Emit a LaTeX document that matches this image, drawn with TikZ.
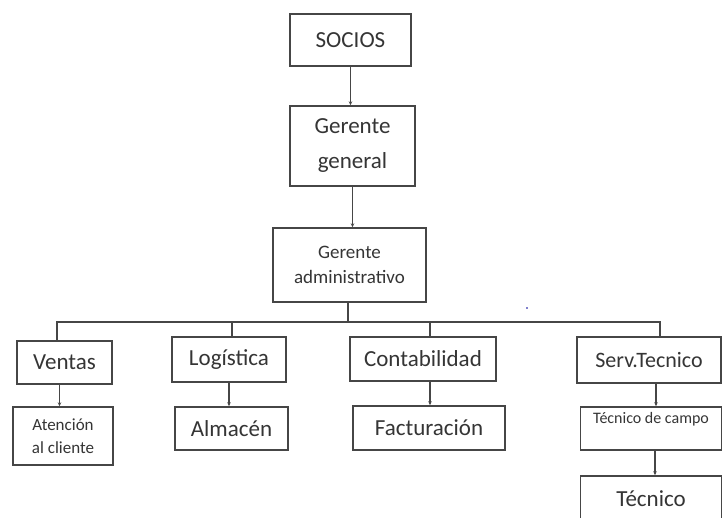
\documentclass[tikz,border=0pt]{standalone}
\usepackage{fontspec}
\setmainfont{Carlito}
\usetikzlibrary{arrows.meta}
\definecolor{boxline}{HTML}{464646}
\definecolor{boxtext}{HTML}{353535}
\tikzset{
  orgbox/.style={draw=boxline, line width=1.4pt, fill=white, text=boxtext,
    inner sep=0pt, align=center},
  bigtext/.style={font=\fs{23}{27}},
  link/.style={draw=boxline, line width=1.6pt},
  downlink/.style={link, -{Stealth[length=4pt,width=3.5pt]}},
}
\newcommand{\fs}[2]{\fontsize{#1}{#2}\selectfont}
\begin{document}
\begin{tikzpicture}[x=1pt,y=-1pt]
  \useasboundingbox (0,0) rectangle (723,518);
  % top of the hierarchy
  \node[orgbox, minimum width=121pt, minimum height=52pt, font=\fs{23}{27}] (socios) at (350.5,40) {SOCIOS};
  \node[orgbox, minimum width=125pt, minimum height=80pt, font=\fs{23}{35}] (gg) at (352.5,146) {Gerente\\general};
  \node[orgbox, minimum width=153pt, minimum height=74pt, font=\fs{19}{25}] (ga) at (349.5,265) {Gerente\\administrativo};
  % departments
  \node[orgbox, bigtext, minimum width=95pt, minimum height=43pt] (ventas) at (64.5,362.5) {Ventas};
  \node[orgbox, bigtext, minimum width=114pt, minimum height=45pt] (log) at (229,359.5) {Logística};
  \node[orgbox, bigtext, minimum width=146pt, minimum height=44pt] (cont) at (423,359) {Contabilidad};
  \node[orgbox, minimum width=144pt, minimum height=46pt, font=\fs{22}{26}] (serv) at (649,360) {Serv.Tecnico};
  % sub units
  \node[orgbox, minimum width=100pt, minimum height=58pt, font=\fs{17}{23}] (aten) at (63,436) {Atención\\al cliente};
  \node[orgbox, bigtext, minimum width=113pt, minimum height=43pt] (alm) at (231.5,428.5) {Almacén};
  \node[orgbox, bigtext, minimum width=152pt, minimum height=44pt] (fact) at (429,428) {Facturación};
  \node[orgbox, minimum width=141pt, minimum height=43pt,
    label={[anchor=north, inner sep=0pt, text=boxtext, font=\fs{16}{19}, yshift=-6pt]north:Técnico de campo}] (tcampo) at (651,428.5) {};
  \node[orgbox, bigtext, minimum width=141pt, minimum height=46pt] (tec) at (651,499) {Técnico};
  % vertical chain
  \draw[downlink] (socios.south) -- (socios.south |- gg.north);
  \draw[downlink] (gg.south) -- (gg.south |- ga.north);
  % horizontal distribution line
  \coordinate (hub) at (348,322);
  \coordinate (bv) at (57,322);
  \coordinate (bl) at (232,322);
  \coordinate (bc) at (430,322);
  \coordinate (bs) at (660,322);
  \draw[link] (ga.south -| hub) -- (hub);
  \draw[link, line cap=rect] (bv) -- (bs);
  \draw[link] (bv) -- (bv |- ventas.north);
  \draw[link] (bl) -- (bl |- log.north);
  \draw[link] (bc) -- (bc |- cont.north);
  \draw[link] (bs) -- (bs |- serv.north);
  % departments to sub units
  \draw[downlink] ([xshift=-5pt]ventas.south) -- ([xshift=-5pt]ventas.south |- aten.north);
  \draw[downlink] (log.south) -- (log.south |- alm.north);
  \draw[downlink] ([xshift=7pt]cont.south) -- ([xshift=7pt]cont.south |- fact.north);
  \draw[downlink] ([xshift=7pt]serv.south) -- ([xshift=7pt]serv.south |- tcampo.north);
  \draw[downlink] ([xshift=4pt]tcampo.south) -- ([xshift=4pt]tcampo.south |- tec.north);
  % stray ink dot
  \fill[blue!60!black] (527,308) circle (0.9pt);
\end{tikzpicture}
\end{document}
